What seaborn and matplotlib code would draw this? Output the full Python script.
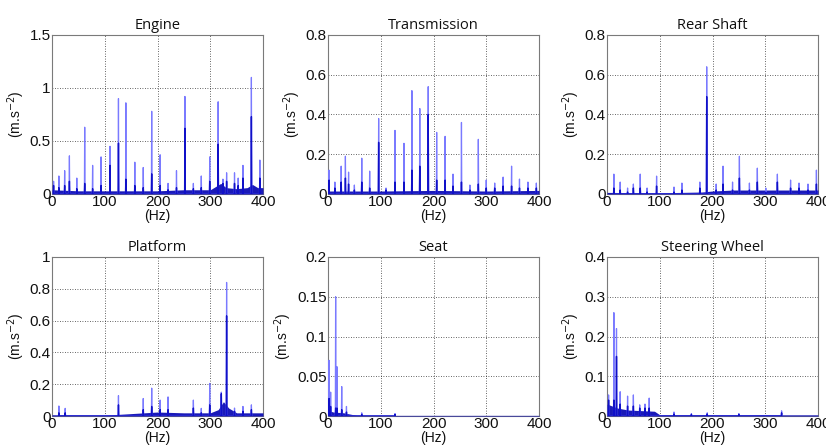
import matplotlib
matplotlib.use("Agg")
import matplotlib.pyplot as plt
import seaborn as sns
import pandas as pd
import numpy as np

sns.set_theme(style="white")
plt.rcParams['font.family'] = ['Liberation Sans', 'DejaVu Sans']

titles = ["Engine", "Transmission", "Rear Shaft", "Platform", "Seat", "Steering Wheel"]
ylims = [1.5, 0.8, 0.8, 1.0, 0.2, 0.4]
yticks = [[0, 0.5, 1, 1.5], [0, 0.2, 0.4, 0.6, 0.8], [0, 0.2, 0.4, 0.6, 0.8],
          [0, 0.2, 0.4, 0.6, 0.8, 1], [0, 0.05, 0.1, 0.15, 0.2], [0, 0.1, 0.2, 0.3, 0.4]]
ytick_labels = [["0", "0.5", "1", "1.5"], ["0", "0.2", "0.4", "0.6", "0.8"],
                ["0", "0.2", "0.4", "0.6", "0.8"], ["0", "0.2", "0.4", "0.6", "0.8", "1"],
                ["0", "0.05", "0.1", "0.15", "0.2"], ["0", "0.1", "0.2", "0.3", "0.4"]]
xticks = [0, 100, 200, 300, 400]

# peak frequencies (Hz), peak amplitudes, dense (dark) core heights
engine_f = [3, 13, 24, 33, 47, 62, 77, 93, 110, 126, 140, 157, 173, 189, 205, 220, 236, 252, 268, 283, 299, 315, 324, 331, 346, 353, 362, 378, 394]
engine_a = [0.12, 0.17, 0.22, 0.36, 0.15, 0.63, 0.27, 0.35, 0.45, 0.90, 0.86, 0.30, 0.25, 0.78, 0.37, 0.10, 0.22, 0.92, 0.10, 0.17, 0.35, 0.87, 0.14, 0.20, 0.20, 0.15, 0.27, 1.10, 0.32]
engine_c = [0.08, 0.06, 0.08, 0.12, 0.05, 0.10, 0.05, 0.08, 0.27, 0.48, 0.14, 0.08, 0.06, 0.19, 0.08, 0.04, 0.06, 0.62, 0.05, 0.06, 0.12, 0.47, 0.10, 0.12, 0.10, 0.08, 0.15, 0.73, 0.15]
engine_floor_f = [0, 50, 100, 150, 200, 250, 300, 310, 320, 330, 350, 370, 380, 390, 400]
engine_floor_a = [0.04, 0.03, 0.03, 0.03, 0.03, 0.04, 0.04, 0.07, 0.10, 0.06, 0.05, 0.06, 0.09, 0.06, 0.06]

trans_f = [2, 13, 25, 33, 39, 50, 64, 79, 96, 110, 127, 144, 159, 174, 190, 206, 222, 237, 253, 269, 285, 300, 316, 332, 348, 363, 379, 395]
trans_a = [0.12, 0.06, 0.14, 0.19, 0.11, 0.045, 0.18, 0.115, 0.38, 0.03, 0.32, 0.255, 0.52, 0.43, 0.54, 0.31, 0.29, 0.10, 0.36, 0.045, 0.275, 0.07, 0.055, 0.085, 0.14, 0.075, 0.06, 0.055]
trans_c = [0.07, 0.03, 0.06, 0.08, 0.05, 0.02, 0.06, 0.03, 0.26, 0.02, 0.06, 0.06, 0.12, 0.14, 0.40, 0.07, 0.07, 0.04, 0.06, 0.02, 0.05, 0.03, 0.03, 0.04, 0.04, 0.03, 0.03, 0.03]
trans_floor_f = [0, 100, 200, 300, 400]
trans_floor_a = [0.015, 0.015, 0.018, 0.015, 0.018]

rear_f = [13, 25, 39, 50, 63, 76, 94, 127, 142, 176, 189, 207, 220, 238, 251, 270, 285, 301, 323, 348, 364, 381, 397]
rear_a = [0.10, 0.06, 0.03, 0.05, 0.10, 0.03, 0.09, 0.035, 0.055, 0.06, 0.64, 0.05, 0.14, 0.06, 0.19, 0.055, 0.13, 0.03, 0.10, 0.07, 0.055, 0.05, 0.12]
rear_c = [0.03, 0.02, 0.01, 0.03, 0.03, 0.01, 0.04, 0.01, 0.02, 0.03, 0.49, 0.02, 0.05, 0.02, 0.08, 0.02, 0.06, 0.01, 0.06, 0.03, 0.03, 0.02, 0.05]
rear_floor_f = [0, 100, 180, 200, 240, 300, 400]
rear_floor_a = [0.008, 0.006, 0.01, 0.015, 0.02, 0.02, 0.02]

plat_f = [13, 25, 126, 173, 189, 205, 220, 268, 283, 299, 321, 331, 346, 362, 378]
plat_a = [0.063, 0.048, 0.128, 0.11, 0.175, 0.10, 0.12, 0.10, 0.048, 0.205, 0.15, 0.84, 0.05, 0.06, 0.07]
plat_c = [0.02, 0.02, 0.07, 0.04, 0.06, 0.04, 0.04, 0.05, 0.02, 0.07, 0.14, 0.63, 0.03, 0.03, 0.04]
plat_floor_f = [0, 100, 150, 200, 250, 300, 315, 325, 335, 350, 400]
plat_floor_a = [0.008, 0.005, 0.015, 0.025, 0.02, 0.02, 0.04, 0.09, 0.05, 0.02, 0.02]

seat_f = [2, 5, 14.5, 17, 26, 35, 64, 127]
seat_a = [0.070, 0.030, 0.150, 0.062, 0.037, 0.012, 0.004, 0.003]
seat_c = [0.022, 0.012, 0.010, 0.010, 0.008, 0.005, 0.002, 0.002]
seat_floor_f = [0, 5, 10, 30, 45, 55, 400]
seat_floor_a = [0.012, 0.006, 0.005, 0.004, 0.002, 0.0008, 0.0008]

steer_f = [3, 13, 18, 25, 39, 50, 62, 72, 80, 127, 160, 190, 250, 331]
steer_a = [0.053, 0.26, 0.22, 0.061, 0.05, 0.053, 0.028, 0.03, 0.045, 0.010, 0.006, 0.008, 0.006, 0.013]
steer_c = [0.04, 0.04, 0.15, 0.03, 0.025, 0.025, 0.02, 0.02, 0.02, 0.005, 0.004, 0.005, 0.004, 0.008]
steer_floor_f = [0, 20, 40, 90, 100, 400]
steer_floor_a = [0.03, 0.02, 0.015, 0.012, 0.003, 0.003]

panels = [
    (engine_f, engine_a, engine_c, engine_floor_f, engine_floor_a),
    (trans_f, trans_a, trans_c, trans_floor_f, trans_floor_a),
    (rear_f, rear_a, rear_c, rear_floor_f, rear_floor_a),
    (plat_f, plat_a, plat_c, plat_floor_f, plat_floor_a),
    (seat_f, seat_a, seat_c, seat_floor_f, seat_floor_a),
    (steer_f, steer_a, steer_c, steer_floor_f, steer_floor_a),
]

W, H = 826, 446
fig = plt.figure(figsize=(W / 100, H / 100), dpi=100)
lefts = [52, 328, 607]
tops = [35, 257]
aw, ah = 211, 159

half_w = 0.6


def spike_frame(freqs, heights):
    xs, ys = [], []
    for f, h in zip(freqs, heights):
        xs += [f - half_w, f, f + half_w]
        ys += [0.0, h, 0.0]
    return pd.DataFrame({"f": xs, "a": ys})


for i, (title, (pf, pa, pc, ff, fa)) in enumerate(zip(titles, panels)):
    r, c = divmod(i, 3)
    ax = fig.add_axes([lefts[c] / W, 1 - (tops[r] + ah) / H, aw / W, ah / H])
    ax.fill_between(ff, 0, fa, color="#1a1ab8", lw=0, zorder=3)
    sns.lineplot(data=spike_frame(pf, pa), x="f", y="a", sort=False, estimator=None,
                 ax=ax, color="#7a7aff", lw=0.9, zorder=4)
    sns.lineplot(data=spike_frame(pf, pc), x="f", y="a", sort=False, estimator=None,
                 ax=ax, color="#1010c8", lw=1.0, zorder=5)
    ax.set_xlim(0, 400)
    ax.set_ylim(0, ylims[i])
    ax.set_xticks(xticks)
    ax.set_xticklabels([str(t) for t in xticks])
    ax.set_yticks(yticks[i])
    ax.set_yticklabels(ytick_labels[i])
    ax.grid(True, color="black", linestyle=(0, (1, 2)), lw=0.6, alpha=0.8)
    ax.set_axisbelow(True)
    ax.tick_params(direction="in", length=3, labelsize=11, pad=1, colors="#111111")
    for s in ax.spines.values():
        s.set_color("#7a7a7a")
        s.set_linewidth(0.8)
    ax.set_title(title, fontsize=10.5, pad=4, family=["Open Sans", "DejaVu Sans"], color="#111111")
    ax.set_xlabel("(Hz)", fontsize=10, labelpad=0, color="#111111")
    ax.set_ylabel("(m.s$^{-2}$)", fontsize=10, labelpad=2, color="#111111")

fig.savefig("out.png", dpi=100, facecolor="white")
